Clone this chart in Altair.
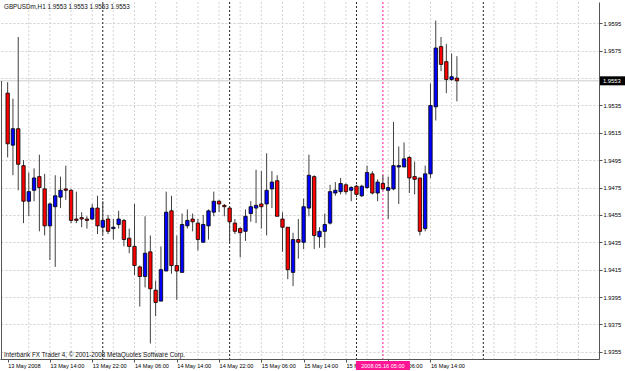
import json
import altair as alt
import pandas as pd

# ---------------- data ----------------
symbol = "GBPUSDm,H1"
last_price = 1.9553
copyright_text = "Interbank FX Trader 4, \u00a9 2001-2008 MetaQuotes Software Corp."

opens = [1.9544, 1.9506, 1.9518, 1.9491, 1.9465, 1.9473, 1.9483, 1.9474, 1.9447, 1.9461,
         1.9468, 1.9474, 1.9473, 1.9452, 1.9453, 1.9452, 1.9452, 1.9460, 1.9446, 1.9452,
         1.9445, 1.9448, 1.9451, 1.9438, 1.9432, 1.9417, 1.9410, 1.9428, 1.9400, 1.9392,
         1.9414, 1.9458, 1.9418, 1.9413, 1.9447, 1.9452, 1.9449, 1.9435, 1.9447, 1.9457,
         1.9465, 1.9462, 1.9460, 1.9449, 1.9445, 1.9443, 1.9456, 1.9460, 1.9463, 1.9463,
         1.9474, 1.9480, 1.9452, 1.9446, 1.9413, 1.9437, 1.9435, 1.9460, 1.9483, 1.9439,
         1.9443, 1.9449, 1.9471, 1.9472, 1.9477, 1.9473, 1.9476, 1.9469, 1.9475, 1.9485,
         1.9471, 1.9478, 1.9473, 1.9474, 1.9490, 1.9490, 1.9497, 1.9483, 1.9482, 1.9445,
         1.9485, 1.9534, 1.9578, 1.9567, 1.9554, 1.9555]
highs = [1.9552, 1.9540, 1.9585, 1.9495, 1.9486, 1.9489, 1.9499, 1.9485, 1.9464, 1.9484,
         1.9483, 1.9491, 1.9474, 1.9472, 1.9457, 1.9454, 1.9463, 1.9469, 1.9465, 1.9455,
         1.9452, 1.9458, 1.9452, 1.9445, 1.9463, 1.9418, 1.9454, 1.9440, 1.9407, 1.9432,
         1.9472, 1.9469, 1.9440, 1.9456, 1.9459, 1.9456, 1.9452, 1.9455, 1.9459, 1.9472,
         1.9466, 1.9463, 1.9461, 1.9452, 1.9446, 1.9459, 1.9465, 1.9488, 1.9487, 1.9500,
         1.9487, 1.9484, 1.9457, 1.9446, 1.9442, 1.9452, 1.9467, 1.9499, 1.9484, 1.9446,
         1.9456, 1.9477, 1.9479, 1.9482, 1.9478, 1.9476, 1.9477, 1.9477, 1.9491, 1.9487,
         1.9481, 1.9484, 1.9483, 1.9523, 1.9505, 1.9508, 1.9498, 1.9494, 1.9482, 1.9491,
         1.9551, 1.9597, 1.9585, 1.9580, 1.9573, 1.9571]
lows = [1.9497, 1.9484, 1.9473, 1.9449, 1.9454, 1.9465, 1.9443, 1.9440, 1.9422, 1.9417,
        1.9460, 1.9466, 1.9449, 1.9449, 1.9446, 1.9445, 1.9451, 1.9441, 1.9441, 1.9441,
        1.9437, 1.9445, 1.9432, 1.9427, 1.9411, 1.9388, 1.9402, 1.9361, 1.9381, 1.9392,
        1.9414, 1.9412, 1.9393, 1.9413, 1.9445, 1.9443, 1.9429, 1.9435, 1.9437, 1.9454,
        1.9457, 1.9454, 1.9435, 1.9441, 1.9424, 1.9436, 1.9450, 1.9449, 1.9445, 1.9440,
        1.9460, 1.9454, 1.9428, 1.9408, 1.9403, 1.9423, 1.9430, 1.9454, 1.9430, 1.9431,
        1.9431, 1.9448, 1.9469, 1.9470, 1.9470, 1.9465, 1.9468, 1.9468, 1.9474, 1.9470,
        1.9465, 1.9473, 1.9452, 1.9473, 1.9463, 1.9490, 1.9471, 1.9470, 1.9440, 1.9443,
        1.9482, 1.9524, 1.9560, 1.9544, 1.9553, 1.9538]
closes = [1.9507, 1.9518, 1.9492, 1.9465, 1.9472, 1.9482, 1.9475, 1.9447, 1.9463, 1.9469,
          1.9473, 1.9473, 1.9451, 1.9451, 1.9452, 1.9451, 1.9460, 1.9447, 1.9451, 1.9443,
          1.9446, 1.9452, 1.9437, 1.9432, 1.9418, 1.9410, 1.9427, 1.9401, 1.9391, 1.9415,
          1.9457, 1.9418, 1.9414, 1.9448, 1.9451, 1.9450, 1.9437, 1.9448, 1.9458, 1.9465,
          1.9463, 1.9461, 1.9450, 1.9443, 1.9442, 1.9454, 1.9461, 1.9462, 1.9461, 1.9473,
          1.9479, 1.9454, 1.9446, 1.9415, 1.9437, 1.9435, 1.9461, 1.9484, 1.9440, 1.9443,
          1.9448, 1.9472, 1.9473, 1.9478, 1.9472, 1.9475, 1.9470, 1.9476, 1.9486, 1.9471,
          1.9479, 1.9474, 1.9475, 1.9491, 1.9491, 1.9496, 1.9482, 1.9481, 1.9443, 1.9485,
          1.9535, 1.9577, 1.9565, 1.9554, 1.9556, 1.9553]

# time axis labels, one every 8 hourly bars starting at bar 0 (13 May 06:00)
time_labels = ["13 May 2008", "13 May 14:00", "13 May 22:00", "14 May 06:00",
               "14 May 14:00", "14 May 22:00", "15 May 06:00", "15 May 14:00",
               "15 May 22:00", "16 May 06:00", "16 May 14:00"]
label_step = 8
price_ticks = [1.9355, 1.9375, 1.9395, 1.9415, 1.9435, 1.9455, 1.9475,
               1.9495, 1.9515, 1.9535, 1.9555, 1.9575, 1.9595]
day_separator_bars = [18, 42, 66, 90]
cursor_bar = 71
cursor_text = "2008.05.16 05:00"

# ---------------- frames ----------------
n = len(opens)
df = pd.DataFrame({"bar": list(range(n)), "open": opens, "high": highs,
                   "low": lows, "close": closes})
df["dir"] = ["up" if c >= o else "down" for o, c in zip(opens, closes)]

W, H = 599, 357
XMIN, XMAX = -0.502, 110.94
YMIN, YMAX = 1.93497, 1.96106
xs = alt.Scale(domain=[XMIN, XMAX], nice=False, zero=False)
ys = alt.Scale(domain=[YMIN, YMAX], nice=False, zero=False)
FONT = "Liberation Sans"

grid_df = pd.DataFrame({"bar": list(range(4, 111, 4))})
sep_df = pd.DataFrame({"bar": day_separator_bars})
cur_df = pd.DataFrame({"bar": [cursor_bar], "txt": [cursor_text]})
price_df = pd.DataFrame({"p": [last_price], "txt": [f"{last_price:.4f}"]})
title_df = pd.DataFrame({"txt": [f"{symbol}  " + " ".join([f"{last_price:.4f}"] * 4)]})
copy_df = pd.DataFrame({"txt": [copyright_text]})

label_expr = json.dumps(time_labels) + f"[round(datum.value/{label_step})]"

xaxis = alt.Axis(values=list(range(0, label_step * len(time_labels), label_step)),
                 labelExpr=label_expr, orient="bottom", grid=False,
                 tickSize=3, tickColor="#555", domainColor="#555",
                 labelAlign="left", labelPadding=1,
                 labelFont=FONT, labelFontSize=5.6, labelColor="#000",
                 labelOverlap=False, labelFlush=False, labelBound=False,
                 title=None)
yaxis = alt.Axis(values=price_ticks, format=".4f", orient="right",
                 grid=True, gridColor="#cfcfcf", gridDash=[2, 2],
                 tickSize=3, tickColor="#555", domainColor="#555",
                 labelPadding=1, labelFont=FONT, labelFontSize=5.8,
                 labelColor="#000", labelOverlap=False, labelFlush=False,
                 labelBound=False, title=None)


def X(field="bar:Q"):
    return alt.X(field, scale=xs, axis=xaxis)


def Y(field):
    return alt.Y(field, scale=ys, axis=yaxis)


vgrid = alt.Chart(grid_df).mark_rule(color="#d4d4d4", strokeDash=[2, 2], strokeWidth=1).encode(
    x=X())

seps = alt.Chart(sep_df).mark_rule(color="#222222", strokeDash=[2, 2], strokeWidth=1).encode(
    x=X())

cursor_line = alt.Chart(cur_df).mark_rule(color="#ff1493", strokeDash=[2, 2], strokeWidth=1).encode(
    x=X())

price_line = alt.Chart(price_df).mark_rule(color="#cccccc", strokeWidth=1).encode(
    y=Y("p:Q"))

left_edge = alt.Chart(price_df).mark_rule(color="#555555", strokeWidth=1).encode(
    x=alt.value(1.5), y=alt.value(79), y2=alt.value(H))

wicks = alt.Chart(df).mark_rule(color="#404040", strokeWidth=1).encode(
    x=X(), y=Y("low:Q"), y2="high:Q")

bodies = alt.Chart(df).mark_bar(size=3.4, stroke="#000000", strokeWidth=0.8,
                                orient="vertical").encode(
    x=X(), y=Y("open:Q"), y2="close:Q",
    color=alt.Color("dir:N", scale=alt.Scale(domain=["up", "down"],
                                             range=["#0000ff", "#ff0000"]), legend=None))

title_txt = alt.Chart(title_df).mark_text(align="left", baseline="middle", font=FONT,
                                          fontSize=6.3, color="#111").encode(
    x=alt.value(4), y=alt.value(4.5), text="txt:N")

copy_txt = alt.Chart(copy_df).mark_text(align="left", baseline="middle", font=FONT,
                                        fontSize=6.3, color="#111").encode(
    x=alt.value(4), y=alt.value(352.5), text="txt:N")

price_box = alt.Chart(price_df).mark_rule(color="#000000", strokeWidth=9).encode(
    x=alt.value(600), x2=alt.value(626), y=Y("p:Q"))

price_box_txt = alt.Chart(price_df).mark_text(align="left", baseline="middle", font=FONT,
                                              fontSize=5.8, color="#ffffff").encode(
    x=alt.value(603), y=Y("p:Q"), text="txt:N")

cursor_box = alt.Chart(cur_df).mark_rule(color="#ff1493", strokeWidth=54).encode(
    x=X(), y=alt.value(H + 2), y2=alt.value(H + 11))

cursor_box_txt = alt.Chart(cur_df).mark_text(align="center", baseline="middle", font=FONT,
                                             fontSize=5.6, color="#ffffff").encode(
    x=X(), y=alt.value(H + 6.5), text="txt:N")

chart = alt.layer(
    vgrid, seps, cursor_line, price_line, left_edge, wicks, bodies,
    title_txt, copy_txt, price_box, price_box_txt, cursor_box, cursor_box_txt
).properties(
    width=W, height=H,
    padding={"left": 0, "top": 2, "right": 26, "bottom": 12},
    autosize=alt.AutoSizeParams(type="none"),
    background="#ffffff",
).configure_view(stroke=None)

chart.save("out.html", embed_options={"renderer": "svg", "actions": False})
